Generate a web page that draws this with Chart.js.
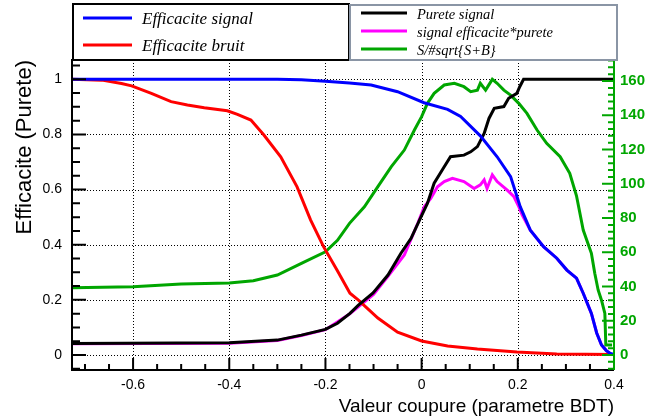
<!DOCTYPE html>
<html>
<head>
<meta charset="utf-8">
<script src="https://cdn.jsdelivr.net/npm/chart.js@4.4.0/dist/chart.umd.min.js"></script>
<style>
  html, body { margin: 0; padding: 0; background: #fff; }
  #chart { display: block; }
</style>
</head>
<body>
<canvas id="chart" width="648" height="419"></canvas>
<script>
// BDT cut scan: efficiencies, purity and S/sqrt(S+B)

// tick labels
const xTicks = [-0.6, -0.4, -0.2, 0, 0.2, 0.4];
const yTicks = [0, 0.2, 0.4, 0.6, 0.8, 1];
const y2Ticks = [0, 20, 40, 60, 80, 100, 120, 140, 160];

// Efficacite signal
const effSigCut = [-0.727, -0.3, -0.25, -0.2, -0.15, -0.105, -0.05, 0.005, 0.054, 0.081, 0.1225, 0.157, 0.185, 0.205, 0.226, 0.2535, 0.281, 0.302, 0.322, 0.336, 0.353, 0.364, 0.374, 0.384, 0.391, 0.398];
const effSigVal = [1, 1, 0.998, 0.993, 0.987, 0.979, 0.955, 0.915, 0.891, 0.865, 0.794, 0.719, 0.647, 0.538, 0.453, 0.393, 0.351, 0.308, 0.279, 0.224, 0.151, 0.08, 0.036, 0.016, 0.007, 0.003];

// Efficacite bruit
const effBkgCut = [-0.727, -0.665, -0.624, -0.603, -0.562, -0.521, -0.487, -0.452, -0.404, -0.383, -0.355, -0.328, -0.293, -0.259, -0.231, -0.204, -0.176, -0.149, -0.132, -0.091, -0.05, 0, 0.054, 0.116, 0.198, 0.281, 0.4];
const effBkgVal = [1, 0.997, 0.985, 0.976, 0.949, 0.919, 0.907, 0.897, 0.886, 0.873, 0.852, 0.798, 0.719, 0.61, 0.49, 0.393, 0.308, 0.224, 0.2, 0.134, 0.083, 0.051, 0.033, 0.022, 0.011, 0.004, 0.002];

// Purete signal
const purCut = [-0.727, -0.4, -0.3, -0.25, -0.2, -0.175, -0.149, -0.132, -0.101, -0.07, -0.043, -0.022, -0.001, 0.012, 0.026, 0.047, 0.06, 0.088, 0.102, 0.116, 0.13, 0.14, 0.151, 0.171, 0.181, 0.198, 0.204, 0.212, 0.4];
const purVal = [0.042, 0.044, 0.054, 0.072, 0.093, 0.115, 0.151, 0.18, 0.225, 0.29, 0.369, 0.423, 0.502, 0.55, 0.623, 0.683, 0.719, 0.725, 0.737, 0.756, 0.804, 0.858, 0.895, 0.901, 0.931, 0.949, 0.973, 1, 1];

// signal efficacite*purete
const prodCut = [-0.727, -0.4, -0.3, -0.25, -0.2, -0.15, -0.1, -0.07, -0.036, -0.008, 0.0055, 0.019, 0.033, 0.047, 0.064, 0.088, 0.109, 0.122, 0.13, 0.136, 0.147, 0.157, 0.178, 0.192, 0.202, 0.209, 0.226, 0.2535, 0.281, 0.302, 0.322, 0.336, 0.353, 0.364, 0.374, 0.384, 0.391];
const prodVal = [0.041, 0.043, 0.053, 0.071, 0.092, 0.149, 0.22, 0.285, 0.363, 0.478, 0.538, 0.568, 0.61, 0.629, 0.641, 0.629, 0.604, 0.617, 0.635, 0.604, 0.653, 0.629, 0.598, 0.574, 0.538, 0.508, 0.453, 0.393, 0.351, 0.308, 0.279, 0.224, 0.151, 0.08, 0.036, 0.016, 0.007];

// S/sqrt(S+B), right axis
const signifCut = [-0.727, -0.6, -0.5, -0.4, -0.35, -0.3, -0.25, -0.2, -0.175, -0.15, -0.119, -0.091, -0.063, -0.036, -0.015, 0, 0.012, 0.026, 0.047, 0.068, 0.088, 0.102, 0.116, 0.122, 0.133, 0.147, 0.157, 0.171, 0.185, 0.202, 0.219, 0.24, 0.26, 0.288, 0.308, 0.322, 0.336, 0.353, 0.36, 0.367, 0.374, 0.381, 0.383, 0.396];
const signifVal = [39.3, 39.9, 41.5, 42, 43.4, 46.7, 53.5, 60.3, 67, 76.9, 86.6, 98.3, 110, 119.7, 131.4, 139.2, 147, 152.8, 157.7, 158.7, 156.7, 153.8, 154.7, 158.7, 154.7, 161, 158.7, 154.7, 151.8, 147, 141.1, 131.4, 123.6, 115.8, 106.1, 93, 73, 59.4, 47.7, 38, 32, 24.3, 5.8, 5.8];

const GREEN = '#00a600';
const SANS = '"Liberation Sans", Arial, sans-serif';
const SERIF = '"Liberation Serif", "Times New Roman", serif';

function points(xs, ys) {
  return xs.map((x, i) => ({ x: x, y: ys[i] }));
}

function fmt(v) {
  return v === 0 || v === 1 ? String(v) : v.toFixed(1);
}

// dotted grid, inward ticks and frame, ROOT style
const rootAxes = {
  id: 'rootAxes',
  beforeDatasetsDraw(chart) {
    const { ctx, chartArea: a, scales: { x, y } } = chart;
    ctx.save();
    ctx.strokeStyle = '#000';
    ctx.lineWidth = 1;
    ctx.setLineDash([1, 2]);
    ctx.beginPath();
    xTicks.forEach(v => {
      const px = Math.round(x.getPixelForValue(v)) + 0.5;
      ctx.moveTo(px, a.top);
      ctx.lineTo(px, a.bottom);
    });
    yTicks.forEach(v => {
      const py = Math.round(y.getPixelForValue(v)) + 0.5;
      ctx.moveTo(a.left, py);
      ctx.lineTo(a.right, py);
    });
    ctx.stroke();
    ctx.restore();
  },
  afterDatasetsDraw(chart) {
    const { ctx, chartArea: a, scales: { x, y, y2 } } = chart;
    ctx.save();
    ctx.lineWidth = 2;
    ctx.strokeStyle = '#000';
    ctx.beginPath();
    // x ticks every 0.05
    for (let i = Math.ceil(x.min / 0.05); i * 0.05 <= x.max + 1e-9; i++) {
      const px = x.getPixelForValue(i * 0.05);
      const len = i % 4 === 0 ? 12 : 6;
      ctx.moveTo(px, a.bottom);
      ctx.lineTo(px, a.bottom - len);
    }
    // left ticks every 0.05
    for (let i = Math.ceil(y.min / 0.05); i * 0.05 <= y.max; i++) {
      const py = y.getPixelForValue(i * 0.05);
      const len = i % 4 === 0 ? 14 : 8;
      ctx.moveTo(a.left, py);
      ctx.lineTo(a.left + len, py);
    }
    ctx.stroke();
    // frame
    ctx.beginPath();
    ctx.moveTo(a.right, a.top);
    ctx.lineTo(a.left, a.top);
    ctx.lineTo(a.left, a.bottom);
    ctx.lineTo(a.right, a.bottom);
    ctx.stroke();
    // right axis, green
    ctx.strokeStyle = GREEN;
    ctx.beginPath();
    for (let i = Math.ceil(y2.min / 4); i * 4 <= y2.max; i++) {
      const py = y2.getPixelForValue(i * 4);
      const len = i % 5 === 0 ? 12 : 6;
      ctx.moveTo(a.right, py);
      ctx.lineTo(a.right - len, py);
    }
    ctx.moveTo(a.right, a.top);
    ctx.lineTo(a.right, a.bottom);
    ctx.stroke();
    ctx.restore();
  }
};

// two legend boxes above the frame
const rootLegend = {
  id: 'rootLegend',
  afterDraw(chart) {
    const ctx = chart.ctx;
    const ds = chart.data.datasets;
    const boxes = [
      { x: 73, y: 4, w: 276, h: 56, border: '#000', items: [0, 1], rows: [20, 47], font: 'italic 17px ' + SERIF, lineX: [83, 132], textX: 142 },
      { x: 350, y: 5, w: 267, h: 55, border: '#8a95a5', items: [2, 3, 4], rows: [15, 33, 51], font: 'italic 14.5px ' + SERIF, lineX: [361, 407], textX: 417 }
    ];
    ctx.save();
    boxes.forEach(b => {
      ctx.fillStyle = '#fff';
      ctx.fillRect(b.x, b.y, b.w, b.h);
      ctx.lineWidth = 2;
      ctx.strokeStyle = b.border;
      ctx.strokeRect(b.x, b.y, b.w, b.h);
      b.items.forEach((idx, k) => {
        const d = ds[idx];
        const ry = b.rows[k];
        ctx.strokeStyle = d.borderColor;
        ctx.lineWidth = 3;
        ctx.beginPath();
        ctx.moveTo(b.lineX[0], ry - 2);
        ctx.lineTo(b.lineX[1], ry - 2);
        ctx.stroke();
        ctx.fillStyle = '#000';
        ctx.font = b.font;
        ctx.textBaseline = 'middle';
        ctx.textAlign = 'left';
        ctx.fillText(d.label, b.textX, ry);
      });
    });
    ctx.restore();
  }
};

const line = (label, color, xs, ys, axis, order) => ({
  label: label,
  data: points(xs, ys),
  borderColor: color,
  backgroundColor: color,
  borderWidth: 3,
  pointRadius: 0,
  tension: 0,
  fill: false,
  yAxisID: axis,
  order: order
});

new Chart(document.getElementById('chart'), {
  type: 'line',
  data: {
    datasets: [
      line('Efficacite signal', '#0000ff', effSigCut, effSigVal, 'y', 0),
      line('Efficacite bruit', '#ff0000', effBkgCut, effBkgVal, 'y', 2),
      line('Purete signal', '#000000', purCut, purVal, 'y', 1),
      line('signal efficacite*purete', '#ff00ff', prodCut, prodVal, 'y', 3),
      line('S/#sqrt{S+B}', GREEN, signifCut, signifVal, 'y2', 4)
    ]
  },
  options: {
    responsive: false,
    animation: false,
    devicePixelRatio: 1,
    layout: { padding: { top: 60, left: 0, right: 0, bottom: 0 } },
    plugins: {
      legend: { display: false },
      tooltip: { enabled: false }
    },
    scales: {
      x: {
        type: 'linear',
        position: 'bottom',
        min: -0.727,
        max: 0.4,
        grid: { display: false, drawTicks: false },
        border: { display: false },
        afterBuildTicks: s => { s.ticks = xTicks.map(v => ({ value: v })); },
        afterFit: s => { s.height = 49; },
        ticks: {
          padding: 7,
          color: '#000',
          font: { family: SANS, size: 14 },
          maxRotation: 0,
          callback: v => fmt(v)
        },
        title: {
          display: true,
          text: 'Valeur coupure (parametre BDT)',
          align: 'end',
          color: '#000',
          font: { family: SANS, size: 19 },
          padding: { top: 0, bottom: 1 }
        }
      },
      y: {
        type: 'linear',
        position: 'left',
        min: -0.0544,
        max: 1.07,
        grid: { display: false, drawTicks: false },
        border: { display: false },
        afterBuildTicks: s => { s.ticks = yTicks.map(v => ({ value: v })); },
        afterFit: s => { s.width = 72; },
        ticks: {
          padding: 10,
          color: '#000',
          font: { family: SANS, size: 14 },
          callback: v => fmt(v)
        },
        title: {
          display: true,
          text: 'Efficacite (Purete)',
          align: 'end',
          color: '#000',
          font: { family: SANS, size: 22 },
          padding: { top: 12, bottom: 0 }
        }
      },
      y2: {
        type: 'linear',
        position: 'right',
        min: -8.76,
        max: 172.3,
        grid: { display: false, drawTicks: false },
        border: { display: false },
        afterBuildTicks: s => { s.ticks = y2Ticks.map(v => ({ value: v })); },
        afterFit: s => { s.width = 34; },
        ticks: {
          padding: 6,
          color: GREEN,
          font: { family: SANS, size: 15, weight: 'bold' },
          callback: v => String(v)
        }
      }
    }
  },
  plugins: [rootAxes, rootLegend]
});
</script>
</body>
</html>
